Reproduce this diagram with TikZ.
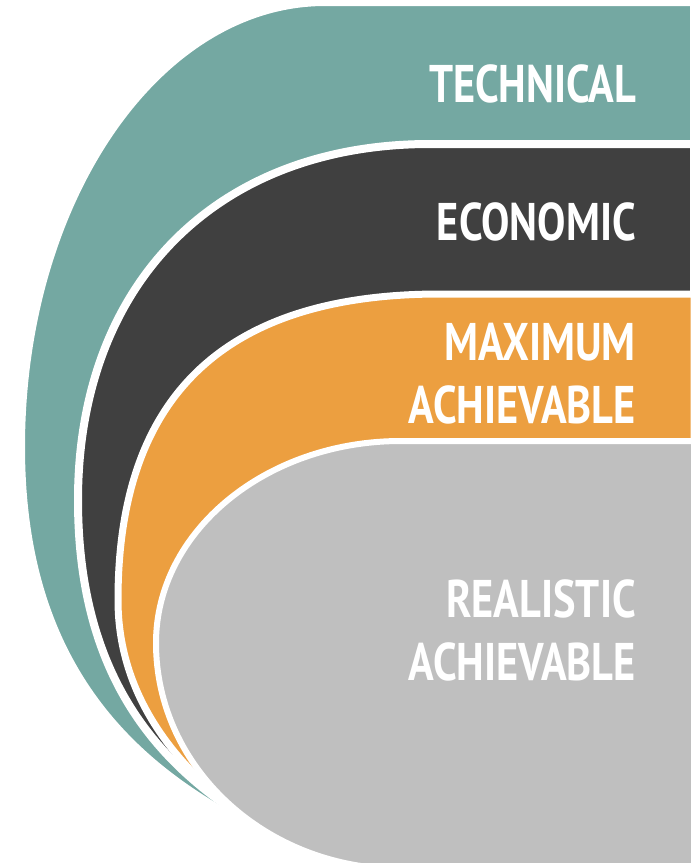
\documentclass[tikz,border=0pt]{standalone}
\usepackage{fontspec}
\newfontfamily\layerfont{PT Sans}[FakeStretch=0.8]

\definecolor{techteal}{RGB}{116,168,162}
\definecolor{econgray}{RGB}{64,64,64}
\definecolor{maxorange}{RGB}{236,159,64}
\definecolor{realgray}{RGB}{191,191,191}

\tikzset{
  layer/.style={draw=white, line width=8pt, line join=round},
  layertext/.style={text=white, inner sep=0pt, align=right,
    font=\layerfont\bfseries\fontsize{53}{63}\selectfont},
}

\begin{document}
\begin{tikzpicture}[x=1pt,y=-1pt]
        \useasboundingbox (0,0) rectangle (695,863);
        % layers, outer one first; tails run into the grey outline
        \path[layer, fill=techteal] (694,2) -- (325,2)
            .. controls (157,2) and (21,201) .. (21,447)
            .. controls (21,677) and (143,784) .. (300,849) -- (694,872) -- cycle;
        \path[layer, fill=econgray] (694,144) -- (430,144)
            .. controls (215,144) and (78,285) .. (78,500)
            .. controls (78,700) and (180,786) .. (290,844) -- (694,872) -- cycle;
        \path[layer, line width=7pt, fill=maxorange] (694,294) -- (440,294)
            .. controls (210,294) and (118,410) .. (118,600)
            .. controls (118,700) and (181,773.5) .. (255,824.5) -- (694,872) -- cycle;
        \path[layer, line width=6pt, fill=realgray] (694,441) -- (401,441)
            arc[start angle=270, end angle=180, x radius=245, y radius=202]
            arc[start angle=180, end angle=90, x radius=245, y radius=226] -- (694,869) -- cycle;
        % texts
        \node[layertext, anchor=base east] (technical) at (636,102) {TECHNICAL};
        \node[layertext, anchor=base east] (economic) at (636,240) {ECONOMIC};
        \node[layertext, anchor=base east] (maximum) at (636,423) {MAXIMUM\\ACHIEVABLE};
        \node[layertext, anchor=base east] (realistic) at (636,680) {REALISTIC\\ACHIEVABLE};
\end{tikzpicture}
\end{document}
